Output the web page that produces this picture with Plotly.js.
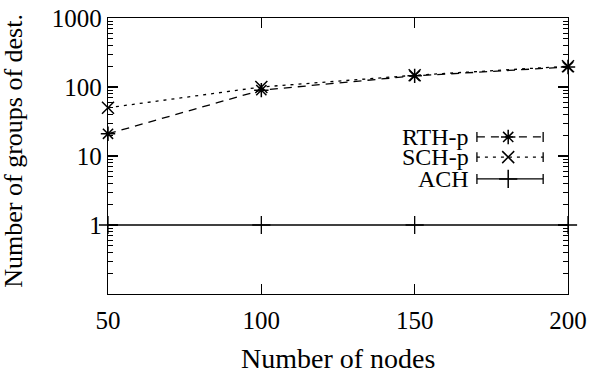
<!DOCTYPE html>
<html><head><meta charset="utf-8">
<script src="https://cdn.plot.ly/plotly-3.0.1.min.js"></script>
<style>html,body{margin:0;padding:0;background:#fff}#chart{width:597px;height:375px}</style>
</head><body><div id="chart"></div>
<script>
const nodes = [50, 100, 150, 200];
const rthP = [21, 90, 145, 195];
const schP = [50, 100, 148, 200];
const ach = [1, 1, 1, 1];
const seriesNames = ['RTH-p', 'SCH-p', 'ACH'];
const yTickVals = [1, 10, 100, 1000];
const xTickVals = [50, 100, 150, 200];
const xTitle = 'Number of nodes';
const yTitle = 'Number of groups of dest.';

const minorVals = [];
[0.1, 1, 10, 100].forEach(d => { for (let k = 2; k <= 9; k++) minorVals.push(d * k); });

const font = 'Liberation Serif, Times New Roman, serif';
const lw = 1.3;

const traces = [
  {x: nodes, y: rthP, mode: 'lines+markers', name: seriesNames[0],
   line: {color: '#000', width: lw, dash: '8px,6px'},
   marker: {symbol: 'asterisk-open', size: 12, color: '#000', line: {width: 1.5, color: '#000'}},
   cliponaxis: false, showlegend: false},
  {x: nodes, y: schP, mode: 'lines+markers', name: seriesNames[1],
   line: {color: '#000', width: lw, dash: '3px,5px'},
   marker: {symbol: 'x-thin-open', size: 12, color: '#000', line: {width: 1.5, color: '#000'}},
   cliponaxis: false, showlegend: false},
  {x: nodes, y: ach, mode: 'lines+markers', name: seriesNames[2],
   line: {color: '#000', width: lw},
   marker: {symbol: 'cross-thin-open', size: 13, color: '#000', line: {width: 1.3, color: '#000'}},
   cliponaxis: false, showlegend: false}
];

// Legend samples on an overlay axis (0..1 in both directions)
const legX0 = 0.802, legX1 = 0.946, legXm = 0.870;
const legY = [0.569, 0.496, 0.417];
const legStyles = [
  {dash: '8px,6px', sym: 'asterisk-open', size: 12},
  {dash: '3px,5px', sym: 'x-thin-open', size: 12},
  {dash: 'solid', sym: 'cross-thin-open', size: 13}
];
legStyles.forEach((s, i) => {
  traces.push({x: [legX0, legX1], y: [legY[i], legY[i]], xaxis: 'x2', yaxis: 'y2',
    mode: 'lines', line: {color: '#000', width: lw, dash: s.dash}, showlegend: false, hoverinfo: 'skip'});
  traces.push({x: [legXm], y: [legY[i]], xaxis: 'x2', yaxis: 'y2',
    mode: 'markers', marker: {symbol: s.sym, size: s.size, color: '#000', line: {width: 1.5, color: '#000'}},
    showlegend: false, hoverinfo: 'skip'});
});

const shapes = [];
const annotations = [];
legY.forEach((yy, i) => {
  [legX0, legX1].forEach(xx => {
    shapes.push({type: 'line', xref: 'x2', yref: 'y2', x0: xx, x1: xx, y0: yy - 0.018, y1: yy + 0.018,
      line: {color: '#000', width: lw}});
  });
  annotations.push({xref: 'paper', yref: 'paper', x: 0.787, y: yy, xanchor: 'right', yanchor: 'middle',
    text: seriesNames[i], showarrow: false, borderpad: 0, font: {family: font, size: 24, color: '#000'}});
});
annotations.push({xref: 'paper', yref: 'paper', x: 0.5, y: -0.232, xanchor: 'center', yanchor: 'middle',
  text: xTitle, showarrow: false, font: {family: font, size: 28, color: '#000'}});
annotations.push({xref: 'paper', yref: 'paper', x: -0.206, y: 0.52, xanchor: 'center', yanchor: 'middle',
  textangle: -90, text: yTitle, showarrow: false, borderpad: 0, font: {family: font, size: 26, color: '#000'}});

const layout = {
  width: 597, height: 375,
  margin: {l: 108, r: 29, t: 18, b: 81},
  paper_bgcolor: '#fff', plot_bgcolor: '#fff',
  font: {family: font, color: '#000', size: 25},
  showlegend: false,
  xaxis: {
    range: [50, 200], tickmode: 'array', tickvals: xTickVals, ticktext: xTickVals.map(String),
    ticks: 'inside', ticklen: 10, tickwidth: lw, tickcolor: '#000', ticklabelstandoff: 4,
    showline: true, linecolor: '#000', linewidth: lw, mirror: 'allticks',
    showgrid: false, zeroline: false, automargin: false,
    tickfont: {family: font, size: 25, color: '#000'}
  },
  yaxis: {
    type: 'log', range: [-1, 3], tickmode: 'array', tickvals: yTickVals, ticktext: yTickVals.map(String),
    ticks: 'inside', ticklen: 10, tickwidth: lw, tickcolor: '#000',
    minor: {tickmode: 'array', tickvals: minorVals, ticks: 'inside', ticklen: 5, tickwidth: 1, tickcolor: '#000', showgrid: false},
    showline: true, linecolor: '#000', linewidth: lw, mirror: 'allticks',
    showgrid: false, zeroline: false, automargin: false,
    tickfont: {family: font, size: 25, color: '#000'}
  },
  xaxis2: {overlaying: 'x', range: [0, 1], visible: false, fixedrange: true},
  yaxis2: {overlaying: 'y', range: [0, 1], visible: false, fixedrange: true},
  shapes: shapes,
  annotations: annotations
};

Plotly.newPlot('chart', traces, layout, {displayModeBar: false, staticPlot: true});
</script>
</body></html>
